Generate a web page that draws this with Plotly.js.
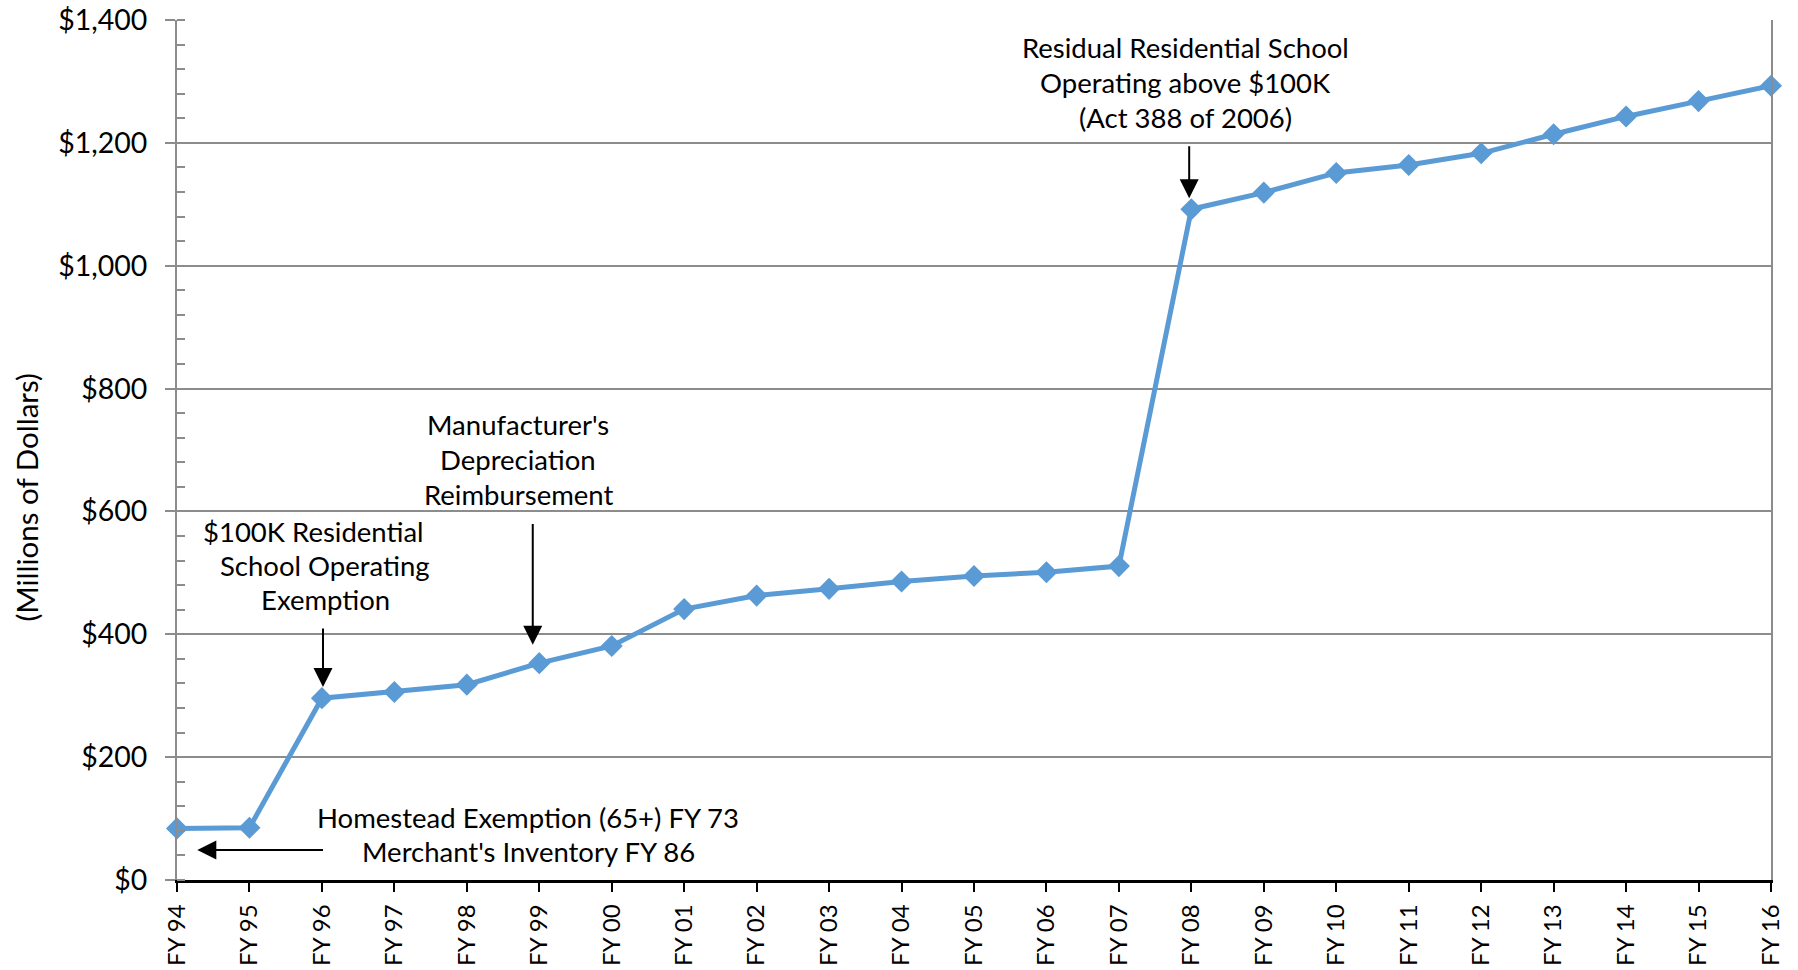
<!DOCTYPE html>
<html>
<head>
<meta charset="utf-8">
<script src="https://cdn.plot.ly/plotly-3.0.1.min.js"></script>
<style>
html,body{margin:0;padding:0;background:#fff;}
#chart{width:1798px;height:970px;}
</style>
</head>
<body>
<div id="chart"></div>
<script>
const fiscalYears = ["FY 94","FY 95","FY 96","FY 97","FY 98","FY 99","FY 00","FY 01","FY 02","FY 03","FY 04","FY 05","FY 06","FY 07","FY 08","FY 09","FY 10","FY 11","FY 12","FY 13","FY 14","FY 15","FY 16"];
const exemptionValues = [84, 85, 296, 306, 318, 353, 381, 441, 463, 474, 486, 495, 501, 511, 1092, 1119, 1151, 1164, 1183, 1214, 1243, 1268, 1293];
const yTickValues = [0, 200, 400, 600, 800, 1000, 1200, 1400];
const yTickLabels = ["$0", "$200", "$400", "$600", "$800", "$1,000", "$1,200", "$1,400"];
const yAxisTitle = "(Millions of Dollars)";

const FONT = "Lato, 'Open Sans', sans-serif";
const annFont = {family: FONT, size: 27.5, color: "#000"};

function textLine(text, x, y) {
  return {text: text, x: x, y: y, xref: "x", yref: "y", showarrow: false,
          xanchor: "center", yanchor: "middle", font: annFont};
}
function arrow(xTip, yTip, xTail, yTail) {
  return {text: "", x: xTip, y: yTip, ax: xTail, ay: yTail, xref: "x", yref: "y",
          axref: "x", ayref: "y", showarrow: true, arrowhead: 2, arrowsize: 1.9,
          arrowwidth: 2, arrowcolor: "#000", standoff: 0, startstandoff: 0};
}

const annotations = [
  textLine("Homestead Exemption (65+) FY 73", 4.845, 102),
  textLine("Merchant's Inventory FY 86", 4.845, 46),
  arrow(0.28, 49, 2.036, 49),
  textLine("$100K Residential", 1.877, 568),
  textLine("School Operating", 2.043, 512),
  textLine("Exemption", 2.043, 456),
  arrow(2.015, 314, 2.015, 412),
  textLine("Manufacturer's", 4.707, 741),
  textLine("Depreciation", 4.707, 684),
  textLine("Reimbursement", 4.707, 628),
  arrow(4.91, 383, 4.91, 582),
  textLine("Residual Residential School", 13.92, 1356),
  textLine("Operating above $100K", 13.92, 1298),
  textLine("(Act 388 of 2006)", 13.92, 1242),
  arrow(13.97, 1110, 13.97, 1197),
  {text: yAxisTitle, xref: "paper", yref: "paper", x: -0.095, y: 0.4453,
   xanchor: "center", yanchor: "middle", textangle: -90, showarrow: false,
   font: {family: FONT, size: 29.5, color: "#000"}}
];

const trace = {
  x: fiscalYears,
  y: exemptionValues,
  type: "scatter",
  mode: "lines+markers",
  line: {color: "#5B9BD5", width: 5},
  marker: {symbol: "diamond", size: 17, color: "#5B9BD5"},
  cliponaxis: false,
  hoverinfo: "x+y"
};

const layout = {
  width: 1798, height: 970,
  paper_bgcolor: "#fff", plot_bgcolor: "#fff",
  margin: {l: 177, r: 27, t: 20, b: 90},
  showlegend: false,
  font: {family: FONT, color: "#000"},
  xaxis: {
    type: "category",
    range: [0, 22],
    showgrid: false,
    showline: true, linecolor: "#000", linewidth: 2.5,
    ticks: "outside", ticklen: 9, tickwidth: 2, tickcolor: "#000",
    tickangle: -90,
    tickfont: {family: FONT, size: 24, color: "#000"},
    ticklabelstandoff: 3,
    zeroline: false,
    fixedrange: true
  },
  yaxis: {
    range: [0, 1400],
    tickvals: yTickValues,
    ticktext: yTickLabels,
    showgrid: true, gridcolor: "#8c8c8c", gridwidth: 2,
    showline: true, linecolor: "#8c8c8c", linewidth: 2, mirror: true,
    ticks: "outside", ticklen: 10, tickwidth: 2, tickcolor: "#8c8c8c",
    minor: {dtick: 40, ticks: "inside", ticklen: 8, tickwidth: 2, tickcolor: "#8c8c8c", showgrid: false},
    tickfont: {family: FONT, size: 28.5, color: "#000"},
    ticklabelstandoff: 12,
    zeroline: false,
    automargin: false,
    fixedrange: true
  },
  annotations: annotations
};

Plotly.newPlot("chart", [trace], layout, {displayModeBar: false});
</script>
</body>
</html>
